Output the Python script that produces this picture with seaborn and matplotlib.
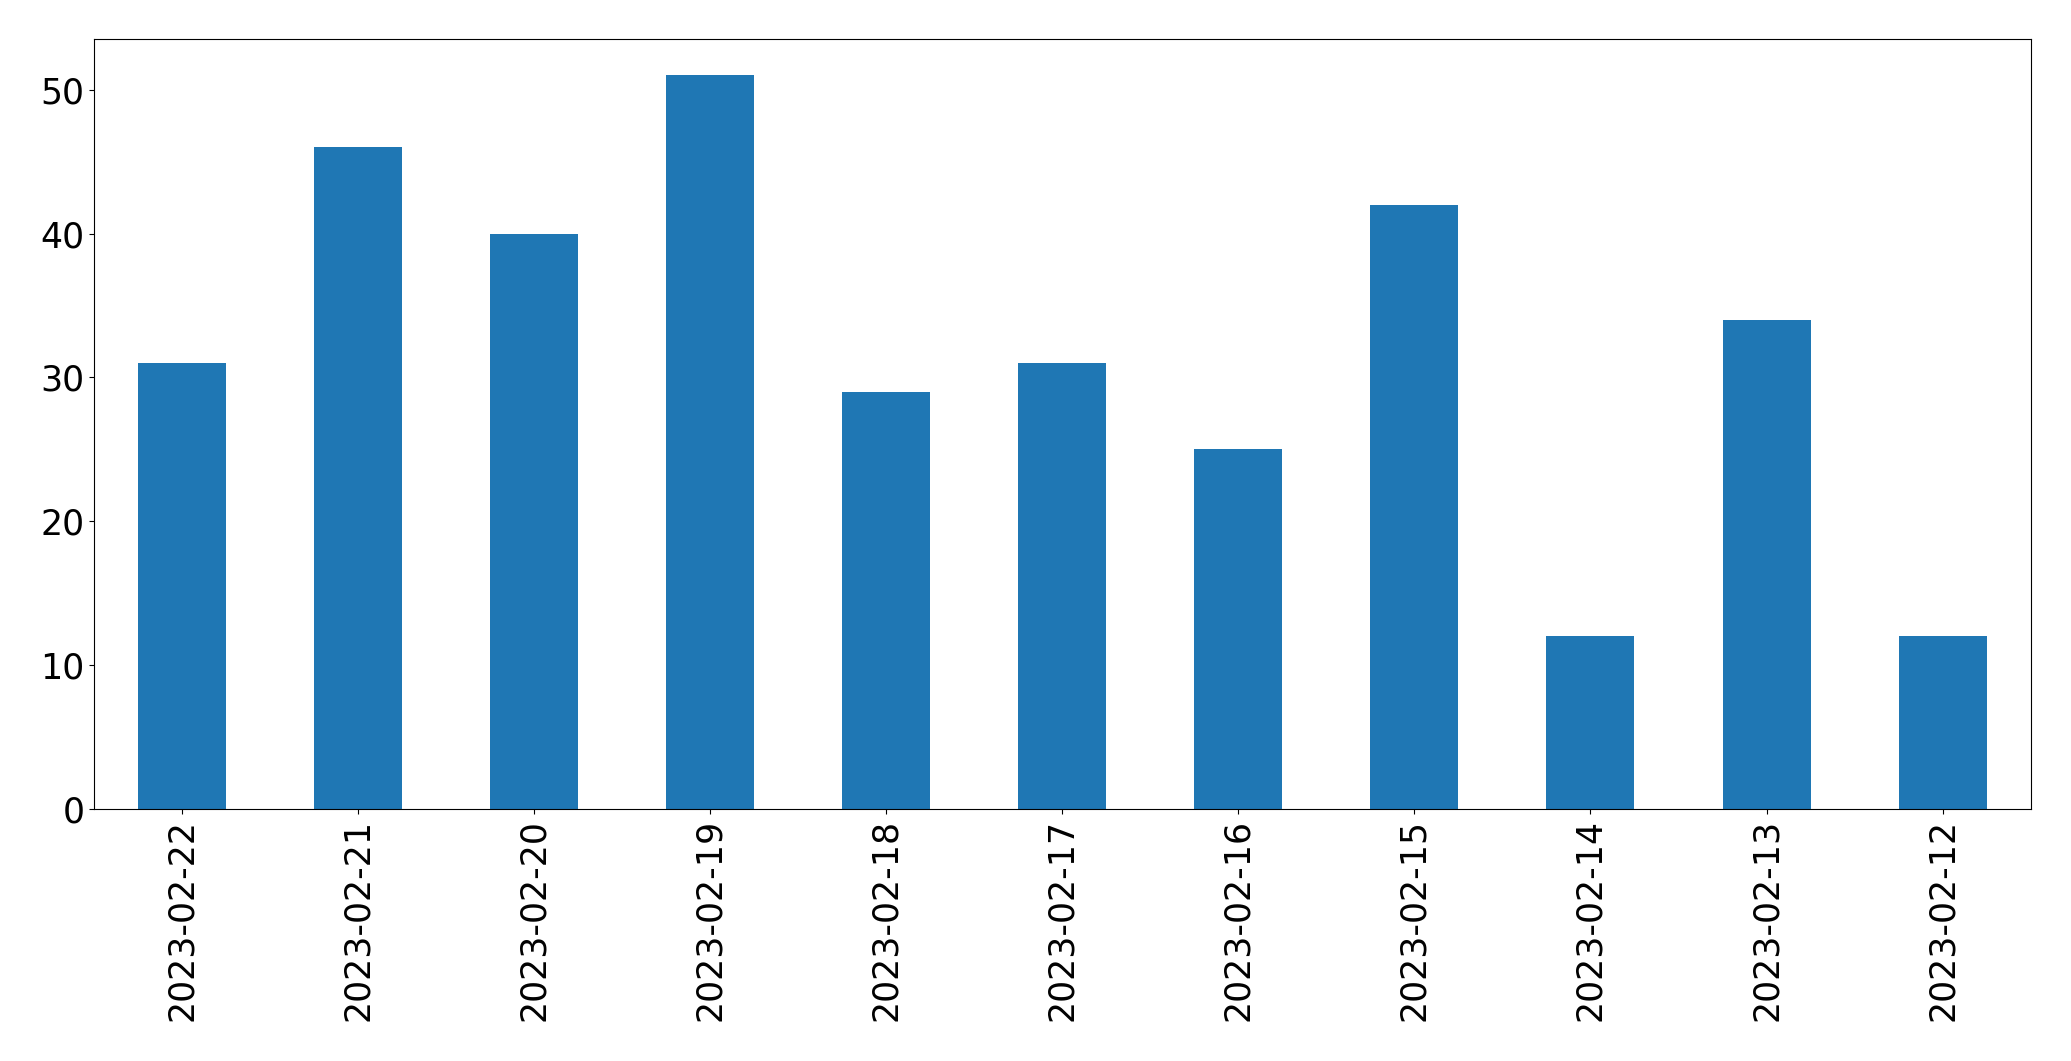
import pandas as pd
import numpy as np
import matplotlib.pyplot as plt
import seaborn as sns

# daily counts, newest first (as in the source chart)
dates = ['2023-02-22', '2023-02-21', '2023-02-20', '2023-02-19', '2023-02-18', '2023-02-17',
         '2023-02-16', '2023-02-15', '2023-02-14', '2023-02-13', '2023-02-12']
counts = [31, 46, 40, 51, 29, 31, 25, 42, 12, 34, 12]

df = pd.DataFrame({'date': dates, 'count': counts})

fig, ax = plt.subplots(figsize=(20.71, 10.61), dpi=100)
fig.subplots_adjust(left=0.0454, right=0.9805, top=0.9635, bottom=0.2375)

sns.barplot(data=df, x='date', y='count', order=dates, color='#1f77b4',
            saturation=1, width=0.5, ax=ax)

ax.set_xlim(-0.5, len(dates) - 0.5)
ax.set_ylim(0, max(counts) * 1.05)
ax.set_xlabel('')
ax.set_ylabel('')
ax.tick_params(axis='both', labelsize=25)
ax.tick_params(axis='x', labelrotation=90)

plt.savefig('out.png', dpi=100)
